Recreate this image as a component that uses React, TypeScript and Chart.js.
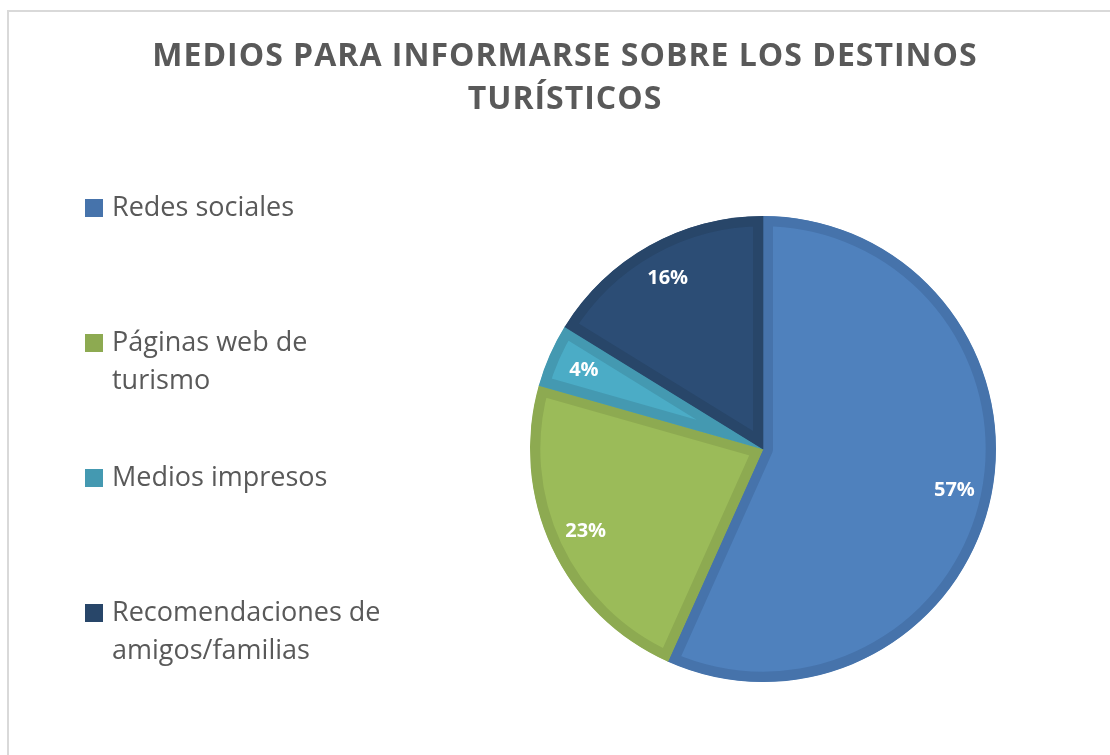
import React, { useEffect, useRef } from "react";
import { Chart, registerables } from "chart.js";

Chart.register(...registerables);

const titleLines = ["MEDIOS PARA INFORMARSE SOBRE LOS DESTINOS", "TURÍSTICOS"];
const categories = [
  "Redes sociales",
  "Páginas web de turismo",
  "Medios impresos",
  "Recomendaciones de amigos/familias",
];
const shares = [56.7, 22.7, 4.4, 16.2];
const fillColors = ["#4F81BD", "#9BBB59", "#4BACC6", "#2C4D75"];
const edgeColors = ["#4673AB", "#8DAA51", "#4499B1", "#284669"];

const TEXT_COLOR = "#595959";
const FONT = "'Open Sans', 'DejaVu Sans', sans-serif";

function wrapWords(ctx: CanvasRenderingContext2D, text: string, maxW: number): string[] {
  const words = text.split(" ");
  const lines: string[] = [];
  let cur = "";
  for (const w of words) {
    const test = cur ? cur + " " + w : w;
    if (ctx.measureText(test).width > maxW && cur) {
      lines.push(cur);
      cur = w;
    } else {
      cur = test;
    }
  }
  if (cur) lines.push(cur);
  return lines;
}

const decorPlugin = {
  id: "decor",
  beforeDraw(chart: any) {
    const ctx = chart.ctx as CanvasRenderingContext2D;
    ctx.save();
    ctx.fillStyle = "#ffffff";
    ctx.fillRect(0, 0, chart.width, chart.height);
    ctx.strokeStyle = "#D9D9D9";
    ctx.lineWidth = 2;
    ctx.beginPath();
    ctx.moveTo(8, chart.height);
    ctx.lineTo(8, 11);
    ctx.lineTo(chart.width, 11);
    ctx.stroke();

    // title
    ctx.fillStyle = TEXT_COLOR;
    ctx.font = `bold 32px ${FONT}`;
    (ctx as any).letterSpacing = "1px";
    ctx.textAlign = "center";
    ctx.textBaseline = "middle";
    titleLines.forEach((t, i) => ctx.fillText(t, 565, 57 + i * 43));
    (ctx as any).letterSpacing = "0px";

    // legend
    ctx.font = `27px ${FONT}`;
    ctx.textAlign = "left";
    const labels: string[] = chart.data.labels;
    labels.forEach((lab, i) => {
      const y0 = 208 + i * 135;
      ctx.fillStyle = edgeColors[i];
      ctx.fillRect(85, y0 - 9, 18, 18);
      ctx.fillStyle = TEXT_COLOR;
      const lines = wrapWords(ctx, lab, 285);
      lines.forEach((ln, j) => ctx.fillText(ln, 112, y0 + j * 38));
    });
    ctx.restore();
  },
  afterDatasetsDraw(chart: any) {
    const ctx = chart.ctx as CanvasRenderingContext2D;
    const meta = chart.getDatasetMeta(0);
    const data = chart.data.datasets[0].data as number[];
    ctx.save();
    ctx.fillStyle = "#ffffff";
    ctx.font = `bold 20px ${FONT}`;
    ctx.textAlign = "center";
    ctx.textBaseline = "middle";
    meta.data.forEach((arc: any, i: number) => {
      const p = arc.getProps(["x", "y", "startAngle", "endAngle", "outerRadius"], true);
      const mid = (p.startAngle + p.endAngle) / 2;
      const r = p.outerRadius * 0.84;
      ctx.fillText(`${Math.round(data[i])}%`, p.x + Math.cos(mid) * r, p.y + Math.sin(mid) * r);
    });
    ctx.restore();
  },
};

export default function App() {
  const ref = useRef<HTMLCanvasElement | null>(null);
  useEffect(() => {
    if (!ref.current) return;
    const chart = new Chart(ref.current, {
      type: "pie",
      data: {
        labels: categories,
        datasets: [
          {
            data: shares,
            backgroundColor: fillColors,
            borderColor: edgeColors,
            borderWidth: 10,
            borderAlign: "inner",
          } as any,
        ],
      },
      options: {
        animation: false,
        responsive: false,
        maintainAspectRatio: false,
        layout: { padding: { left: 530, right: 114, top: 216, bottom: 73 } },
        plugins: {
          legend: { display: false },
          title: { display: false },
          tooltip: { enabled: false },
        },
      },
      plugins: [decorPlugin],
    });
    return () => chart.destroy();
  }, []);
  return (
    <div style={{ position: "absolute", left: 0, top: 0, width: 1110, height: 755 }}>
      <canvas ref={ref} width={1110} height={755} style={{ display: "block" }} />
    </div>
  );
}
